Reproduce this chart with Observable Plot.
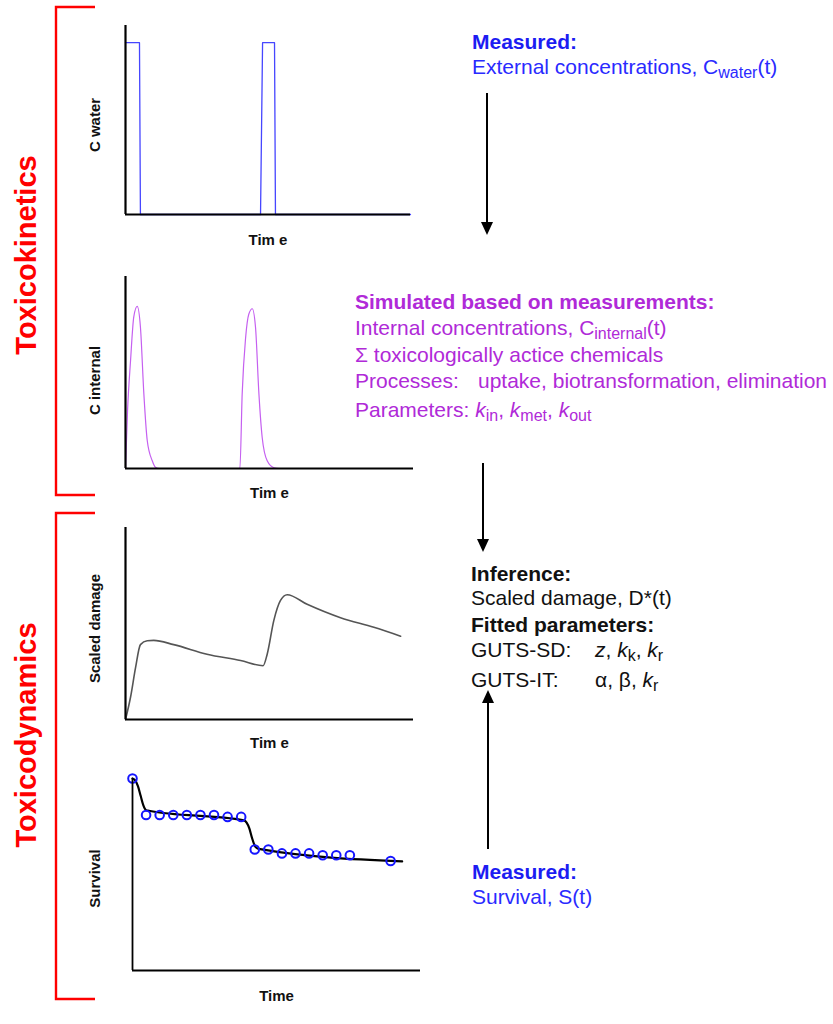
<!DOCTYPE html>
<html>
<head>
<meta charset="utf-8">
<script src="https://cdn.jsdelivr.net/npm/d3@7"></script>
<script src="https://cdn.jsdelivr.net/npm/@observablehq/plot@0.6"></script>
<style>
  html, body { margin: 0; padding: 0; background: #fff; }
  #root { position: relative; width: 833px; height: 1024px; overflow: hidden; font-family: "Liberation Sans", Arial, sans-serif; }
  #root svg.plot, #root > svg { position: absolute; }
</style>
</head>
<body>
<div id="root"></div>
<script>
// ---------- data ----------
// Panel 1: external concentration (C water) – two pulses
const cwaterTime  = [0, 1.03, 1.1, 9.95, 10.1, 10.98, 11.05, 21];
const cwaterValue = [1, 1,    0,   0,    1,    1,     0,     0];

// Panel 2: internal concentration (C internal)
const cintTime  = [0, 0.15, 0.37, 0.61, 0.86, 1.1, 1.35, 1.6, 1.97, 2.2, 2.5, 8.42, 8.59, 8.84, 9.08, 9.33, 9.57, 9.82, 10.06, 10.43, 10.93, 11.3, 17.1];
const cintValue = [0, 0.3,  0.56, 0.79, 0.844, 0.736, 0.39, 0.146, 0.04, 0.007, 0, 0, 0.39, 0.68, 0.805, 0.832, 0.736, 0.39, 0.163, 0.04, 0.004, 0, 0];

// Panel 3: scaled damage D*(t)
const damageTime  = [0, 0.37, 0.74, 1.1, 1.6, 2.08, 3.55, 6.0, 8.47, 10.13, 10.43, 10.92, 11.41, 11.9, 13.37, 15.83, 18.28, 20.25];
const damageValue = [0, 0.116, 0.27, 0.39, 0.41, 0.412, 0.39, 0.34, 0.307, 0.28, 0.34, 0.516, 0.62, 0.65, 0.60, 0.53, 0.48, 0.434];

// Panel 4: survival – fitted curve and observations
const fitTime  = [0, 0.2, 0.4, 0.6, 0.8, 1.0, 1.2, 8.2, 8.4, 8.6, 8.8, 9.0, 9.2, 9.4, 19.85];
const fitValue = [1.0, 0.99, 0.96, 0.91, 0.86, 0.835, 0.832, 0.782, 0.77, 0.74, 0.69, 0.65, 0.635, 0.632, 0.568];
const obsTime  = [0, 1, 2, 3, 4, 5, 6, 7, 8, 9, 10, 11, 12, 13, 14, 15, 16, 19];
const obsValue = [1.0, 0.81, 0.81, 0.81, 0.81, 0.81, 0.81, 0.80, 0.80, 0.63, 0.63, 0.61, 0.61, 0.61, 0.60, 0.60, 0.60, 0.57];

// Axis labels
const timeLabels = ["Tim e", "Tim e", "Tim e", "Time"];
const yLabels = ["C water", "C internal", "Scaled damage", "Survival"];

// ---------- helpers ----------
const FONT = "'Liberation Sans', Arial, sans-serif";
const root = document.getElementById("root");
const zip = (t, v) => t.map((d, i) => ({t: d, v: v[i]}));

function panel({top, height, mt, mb, ml, mr, xDomain, yDomain, marks, timeLabel, yLabel, tdy, ydx, ydy, axisW = 2.2}) {
  const p = Plot.plot({
    width: 440, height,
    marginTop: mt, marginBottom: mb, marginLeft: ml, marginRight: mr,
    x: {domain: xDomain, axis: null},
    y: {domain: yDomain, axis: null},
    style: {fontFamily: FONT, background: "transparent", overflow: "visible"},
    marks: [
      ...marks,
      Plot.ruleX([0], {stroke: "#000", strokeWidth: axisW}),
      Plot.ruleY([0], {stroke: "#000", strokeWidth: axisW}),
      Plot.text([timeLabel], {text: d => d, frameAnchor: "bottom", textAnchor: "middle", lineAnchor: "middle", dy: tdy, fontSize: 15, fontWeight: "bold", fill: "#111"}),
      Plot.text([yLabel], {text: d => d, frameAnchor: "left", textAnchor: "middle", lineAnchor: "middle", rotate: -90, dx: ydx, dy: ydy, fontSize: 15, fontWeight: "bold", fill: "#111"})
    ]
  });
  p.style.top = top + "px";
  p.style.left = "0px";
  p.style.position = "absolute";
  root.append(p);
}

// Panel 1
panel({
  top: 0, height: 255, mt: 25, mb: 41, ml: 125, mr: 30,
  xDomain: [0, 21], yDomain: [0, 1.1],
  marks: [Plot.line(zip(cwaterTime, cwaterValue), {x: "t", y: "v", stroke: "#4646ff", strokeWidth: 1.3})],
  timeLabel: timeLabels[0], yLabel: yLabels[0], tdy: 26, ydx: -30, ydy: 5
});

// Panel 2
panel({
  top: 255, height: 250, mt: 21, mb: 37, ml: 125, mr: 27,
  xDomain: [0, 21.2], yDomain: [0, 1],
  marks: [Plot.line(zip(cintTime, cintValue), {x: "t", y: "v", stroke: "#c560f0", strokeWidth: 1.2, curve: "monotone-x"})],
  timeLabel: timeLabels[1], yLabel: yLabels[1], tdy: 25, ydx: -30, ydy: 8
});

// Panel 3
panel({
  top: 505, height: 255, mt: 22, mb: 41, ml: 125, mr: 27,
  xDomain: [0, 21.2], yDomain: [0, 1],
  marks: [Plot.line(zip(damageTime, damageValue), {x: "t", y: "v", stroke: "#555", strokeWidth: 1.6, curve: "monotone-x"})],
  timeLabel: timeLabels[2], yLabel: yLabels[2], tdy: 24, ydx: -30, ydy: 5
});

// Panel 4
panel({
  top: 760, height: 264, mt: 18, mb: 54, ml: 132, mr: 20,
  xDomain: [0, 21.2], yDomain: [0, 1],
  marks: [
    Plot.line(zip(fitTime, fitValue), {x: "t", y: "v", stroke: "#000", strokeWidth: 2.2, curve: "monotone-x"}),
    Plot.dot(zip(obsTime, obsValue), {x: "t", y: "v", r: 4.3, stroke: "#1515ff", strokeWidth: 2, fill: "none"})
  ],
  timeLabel: timeLabels[3], yLabel: yLabels[3], tdy: 26, ydx: -37, ydy: 4, axisW: 1.8
});

// ---------- annotation overlay ----------
const NS = "http://www.w3.org/2000/svg";
const ov = document.createElementNS(NS, "svg");
ov.setAttribute("width", 833); ov.setAttribute("height", 1024);
ov.style.position = "absolute"; ov.style.left = "0px"; ov.style.top = "0px";
ov.style.fontFamily = FONT;
ov.innerHTML = `
  <g stroke="#ff0000" stroke-width="2.4" fill="none">
    <polyline points="95,7 56,7 56,495 95,495"/>
    <polyline points="95,513 56,513 56,999 95,999"/>
  </g>
  <text transform="translate(36,255) rotate(-90)" text-anchor="middle" font-size="29" font-weight="bold" fill="#ff0000">Toxicokinetics</text>
  <text transform="translate(36,735) rotate(-90)" text-anchor="middle" font-size="29" font-weight="bold" fill="#ff0000">Toxicodynamics</text>

  <g stroke="#000" stroke-width="2">
    <line x1="487" y1="93" x2="487" y2="224"/>
    <line x1="483" y1="463" x2="483" y2="541"/>
    <line x1="488" y1="849" x2="488" y2="701"/>
  </g>
  <g fill="#000">
    <polygon points="481,222 493,222 487,235"/>
    <polygon points="477,539 489,539 483,552"/>
    <polygon points="482,703 494,703 488,690"/>
  </g>

  <g font-size="21" fill="#1c1cf2">
    <text x="472" y="49" font-weight="bold">Measured:</text>
    <text x="472" y="74" fill="#2a2aff">External concentrations, C<tspan dy="4" font-size="16">water</tspan><tspan dy="-4">(t)</tspan></text>
    <text x="472" y="879" font-weight="bold">Measured:</text>
    <text x="472" y="904" fill="#2a2aff">Survival, S(t)</text>
  </g>

  <g font-size="21" fill="#b02ad8">
    <text x="355" y="309" font-weight="bold">Simulated based on measurements:</text>
    <text x="355" y="335">Internal concentrations, C<tspan dy="4" font-size="16">internal</tspan><tspan dy="-4">(t)</tspan></text>
    <text x="355" y="362">Σ toxicologically actice chemicals</text>
    <text x="355" y="388">Processes:</text>
    <text x="478" y="388">uptake, biotransformation, elimination</text>
    <text x="355" y="417">Parameters: <tspan font-style="italic">k</tspan><tspan dy="4" font-size="16">in</tspan><tspan dy="-4">, </tspan><tspan font-style="italic">k</tspan><tspan dy="4" font-size="16">met</tspan><tspan dy="-4">, </tspan><tspan font-style="italic">k</tspan><tspan dy="4" font-size="16">out</tspan></text>
  </g>

  <g font-size="21" fill="#111">
    <text x="471" y="581" font-weight="bold">Inference:</text>
    <text x="471" y="605">Scaled damage, D*(t)</text>
    <text x="471" y="632" font-weight="bold">Fitted parameters:</text>
    <text x="471" y="657">GUTS-SD:</text>
    <text x="595" y="657"><tspan font-style="italic">z</tspan>, <tspan font-style="italic">k</tspan><tspan dy="4" font-size="16">k</tspan><tspan dy="-4">, </tspan><tspan font-style="italic">k</tspan><tspan dy="4" font-size="16">r</tspan></text>
    <text x="471" y="687">GUTS-IT:</text>
    <text x="595" y="687">α, β, <tspan font-style="italic">k</tspan><tspan dy="4" font-size="16">r</tspan></text>
  </g>
`;
root.append(ov);
</script>
</body>
</html>
